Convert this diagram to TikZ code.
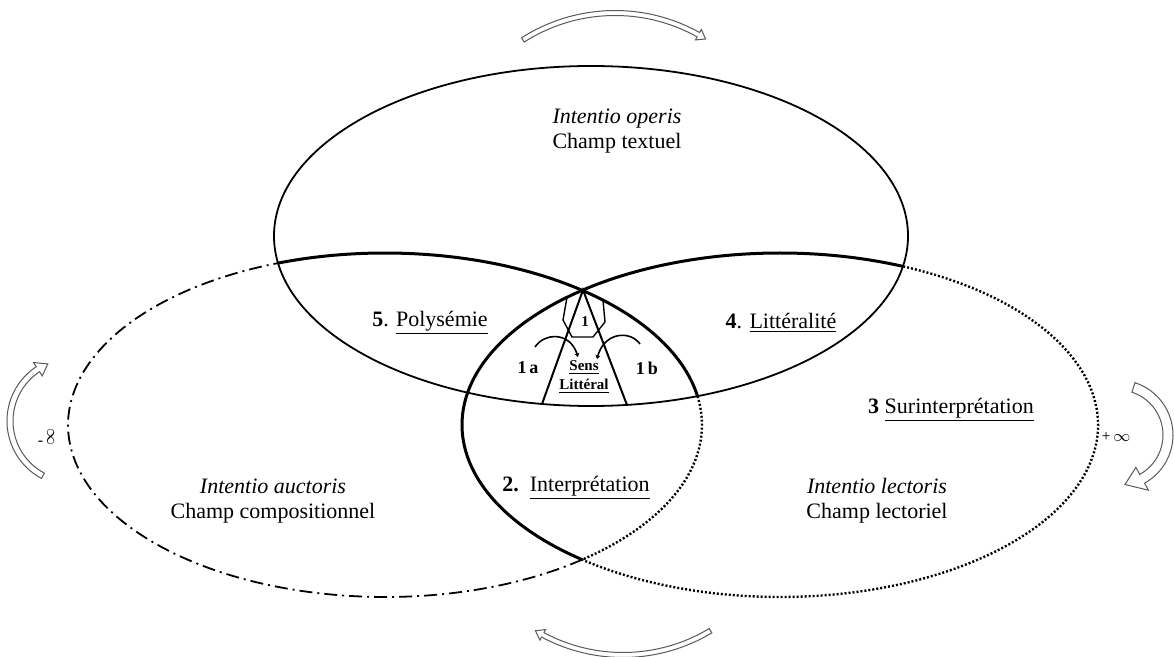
\documentclass[tikz,border=0pt]{standalone}
\usepackage{fontspec}
\setmainfont{Liberation Serif}
\usepackage{graphicx}
\usetikzlibrary{arrows.meta}

\tikzset{
  oval/.style={line width=0.9pt},
  lens/.style={line width=1.5pt},
  readerline/.style={line width=1.2pt, dash pattern=on 1pt off 1pt},
  authorline/.style={line width=0.9pt, dash pattern=on 6.5pt off 2.5pt on 1pt off 2.5pt},
  field/.style={align=center, font=\fontsize{11}{12.5}\selectfont},
  zone/.style={font=\fontsize{11}{12.5}\selectfont},
  core/.style={align=center, font=\fontsize{7.5}{9.5}\selectfont\bfseries},
  subzone/.style={font=\fontsize{9}{10}\selectfont\bfseries},
  infinity/.style={font=\fontsize{8}{9}\selectfont},
  flowarrow/.style={draw=black!65, line width=0.5pt, fill=white},
  hint/.style={line width=0.8pt, -{Stealth[length=2pt,width=2.5pt]}}
}

\begin{document}
\begin{tikzpicture}[x=0.5pt, y=-0.5pt]
    % curved block arrow: centre, radius, from, to, half band, half head
    \newcommand{\bentArrow}[6]{
      \pgfmathsetmacro{\headAt}{#4-57.3*1.4*#6/#2}
      \pgfmathsetmacro{\rOut}{#2+#5}
      \pgfmathsetmacro{\rIn}{#2-#5}
      \pgfmathsetmacro{\hOut}{#2+#6}
      \pgfmathsetmacro{\hIn}{#2-#6}
      \begin{scope}[shift={#1}]
        \draw[flowarrow] (#3:\rOut) arc[start angle=#3, end angle=\headAt, radius=\rOut]
          -- (\headAt:\hOut) -- (#4:#2) -- (\headAt:\hIn) -- (\headAt:\rIn)
          arc[start angle=\headAt, end angle=#3, radius=\rIn] -- cycle;
      \end{scope}
    }
    % one piece of an oval: style, centre, x radius, y radius, from, to
    \newcommand{\ovalPart}[6]{
      \draw[#1] #2 ++(#5:#3 and #4) arc[start angle=#5, end angle=#6, x radius=#3, y radius=#4];
    }
  \useasboundingbox (0,0) rectangle (1174,657);

  % the three fields
  \draw[oval] (591,236) ellipse [x radius=317, y radius=170];
  \ovalPart{authorline}{(385,425)}{317}{172}{51.5}{250.3}
  \ovalPart{lens}{(385,425)}{317}{172}{250.3}{350.35}
  \ovalPart{readerline}{(385,425)}{317}{172}{350.35}{411.5}
  \ovalPart{readerline}{(780,425)}{318}{172}{-67.2}{128.4}
  \ovalPart{lens}{(780,425)}{318}{172}{128.4}{292.8}

  % literal sense in the middle
  \coordinate (apex) at (583,290);
  \coordinate (baseL) at (542,404);
  \coordinate (baseR) at (627,405);
  \draw[line width=1pt] (baseL) -- (apex) -- (baseR);
  \draw[line width=0.7pt] (567,297.3) -- (563,320) -- (572,337) -- (593,337)
    -- (605,322) -- (603,300.1);

  \node[core] (one) at (585,322) {1};
  \node[core] (sens) at (584,377) {\underline{Sens}\\\underline{Littéral}};
  \node[subzone] (onea) at (528,368) {1\,a};
  \node[subzone] (oneb) at (647,368) {1\,b};
  \coordinate (fromA) at (535,347);
  \coordinate (toA) at (578,357);
  \coordinate (fromB) at (640,344);
  \coordinate (toB) at (597,359);
  \draw[hint] (fromA) .. controls (544,333) and (570,331) .. (toA);
  \draw[hint] (fromB) .. controls (630,330) and (604,332) .. (toB);

  % labels
  \node[field] (operis) at (617,131) {\textit{Intentio operis}\\Champ textuel};
  \node[field] (auctoris) at (273,501) {\textit{Intentio auctoris}\\Champ compositionnel};
  \node[field] (lectoris) at (877,501) {\textit{Intentio lectoris}\\Champ lectoriel};
  \node[zone] (poly) at (430,323) {\textbf{5}. \underline{Polysémie}};
  \node[zone] (litt) at (781,323) {\textbf{4}. \underline{Littéralité}};
  \node[zone] (surint) at (951,410) {\textbf{3} \underline{Surinterprétation}};
  \node[zone] (interp) at (576,488) {\textbf{2.}\ \ \underline{Interprétation}};
  \node[infinity] (minf) at (46,437) {-\ \rotatebox{90}{$\infty$}};
  \node[infinity] (pinf) at (1116,437) {+\,$\infty$};

  % turning arrows round the fields
  \bentArrow{(615,184)}{171}{237.4}{302}{2.5}{6}
  \bentArrow{(1118,435)}{50}{-72}{82}{5}{13}
  \bentArrow{(623,485)}{170}{59}{121}{2.5}{6}
  \bentArrow{(72,421)}{62}{118}{247}{3}{8}

\end{tikzpicture}
\end{document}
